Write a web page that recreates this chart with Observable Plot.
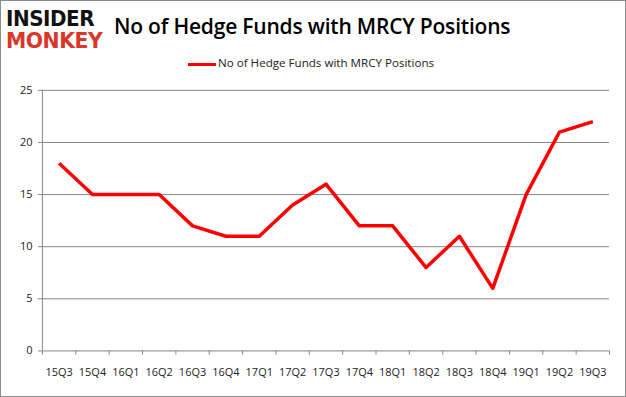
<!DOCTYPE html>
<html><head><meta charset="utf-8">
<script src="https://cdn.jsdelivr.net/npm/d3@7"></script>
<script src="https://cdn.jsdelivr.net/npm/@observablehq/plot@0.6"></script>
<style>
html,body{margin:0;padding:0;background:#fff;}
#wrap{position:relative;width:626px;height:397px;box-sizing:border-box;border:1px solid #8c8c8c;overflow:hidden;font-family:"Open Sans",sans-serif;}
#chart{position:absolute;left:-1px;top:-1px;}
.t{position:absolute;white-space:nowrap;}
</style></head>
<body>
<div id="wrap">
  <div class="t" style="left:5px;top:8px;font-family:'DejaVu Sans';font-weight:900;font-size:21px;line-height:20px;height:20px;letter-spacing:-0.5px;color:#111;transform:scaleX(0.95);transform-origin:left;">INSIDER</div>
  <div class="t" style="left:5px;top:30px;font-family:'DejaVu Sans';font-weight:900;font-size:21px;line-height:20px;height:20px;letter-spacing:-0.5px;color:#d8372a;transform:scaleX(0.97);transform-origin:left;">MONKEY</div>
  <div class="t" style="left:113px;top:11px;font-size:21px;font-weight:600;color:#000;letter-spacing:-0.2px;">No of Hedge Funds with MRCY Positions</div>
  <div class="t" style="left:187px;top:62px;width:28px;height:3px;background:#ff0000;"></div>
  <div class="t" style="left:217px;top:54px;font-size:11.6px;color:#222;">No of Hedge Funds with MRCY Positions</div>
  <div id="chart"></div>
</div>
<script>
const quarters = ["15Q3","15Q4","16Q1","16Q2","16Q3","16Q4","17Q1","17Q2","17Q3","17Q4","18Q1","18Q2","18Q3","18Q4","19Q1","19Q2","19Q3"];
const funds = [18,15,15,15,12,11,11,14,16,12,12,8,11,6,15,21,22];
const yTicks = [0,5,10,15,20,25];

const data = quarters.map((q,i)=>({i, q, v: funds[i]}));
const n = quarters.length;
const boundaries = d3.range(n + 1).map(k => k - 0.5);

const chart = Plot.plot({
  width: 626, height: 397,
  marginLeft: 42, marginRight: 16, marginTop: 90, marginBottom: 46,
  style: {fontFamily: "Open Sans", fontSize: "11px", color: "#222", background: "transparent"},
  x: {type: "linear", domain: [-0.5, n - 0.5], axis: null},
  y: {domain: [0, 25], axis: null},
  marks: [
    Plot.ruleY(yTicks, {x1: -0.62, x2: n - 0.5, stroke: "#868686", strokeWidth: 1}),
    Plot.text(yTicks, {x: -0.5, y: d => d, text: d => String(d), textAnchor: "end", dx: -10, fill: "#222", fontSize: 11}),
    Plot.ruleX([-0.5], {y1: 0, y2: 25, stroke: "#868686"}),
    Plot.ruleX(boundaries, {y1: 0, y2: -0.4, stroke: "#868686"}),
    Plot.text(data, {x: "i", y: 0, text: "q", dy: 22, fill: "#222", fontSize: 11}),
    Plot.line(data, {x: "i", y: "v", stroke: "#ff0000", strokeWidth: 3.5, strokeLinejoin: "round", strokeLinecap: "butt"})
  ]
});
document.getElementById("chart").appendChild(chart);
</script>
</body></html>
